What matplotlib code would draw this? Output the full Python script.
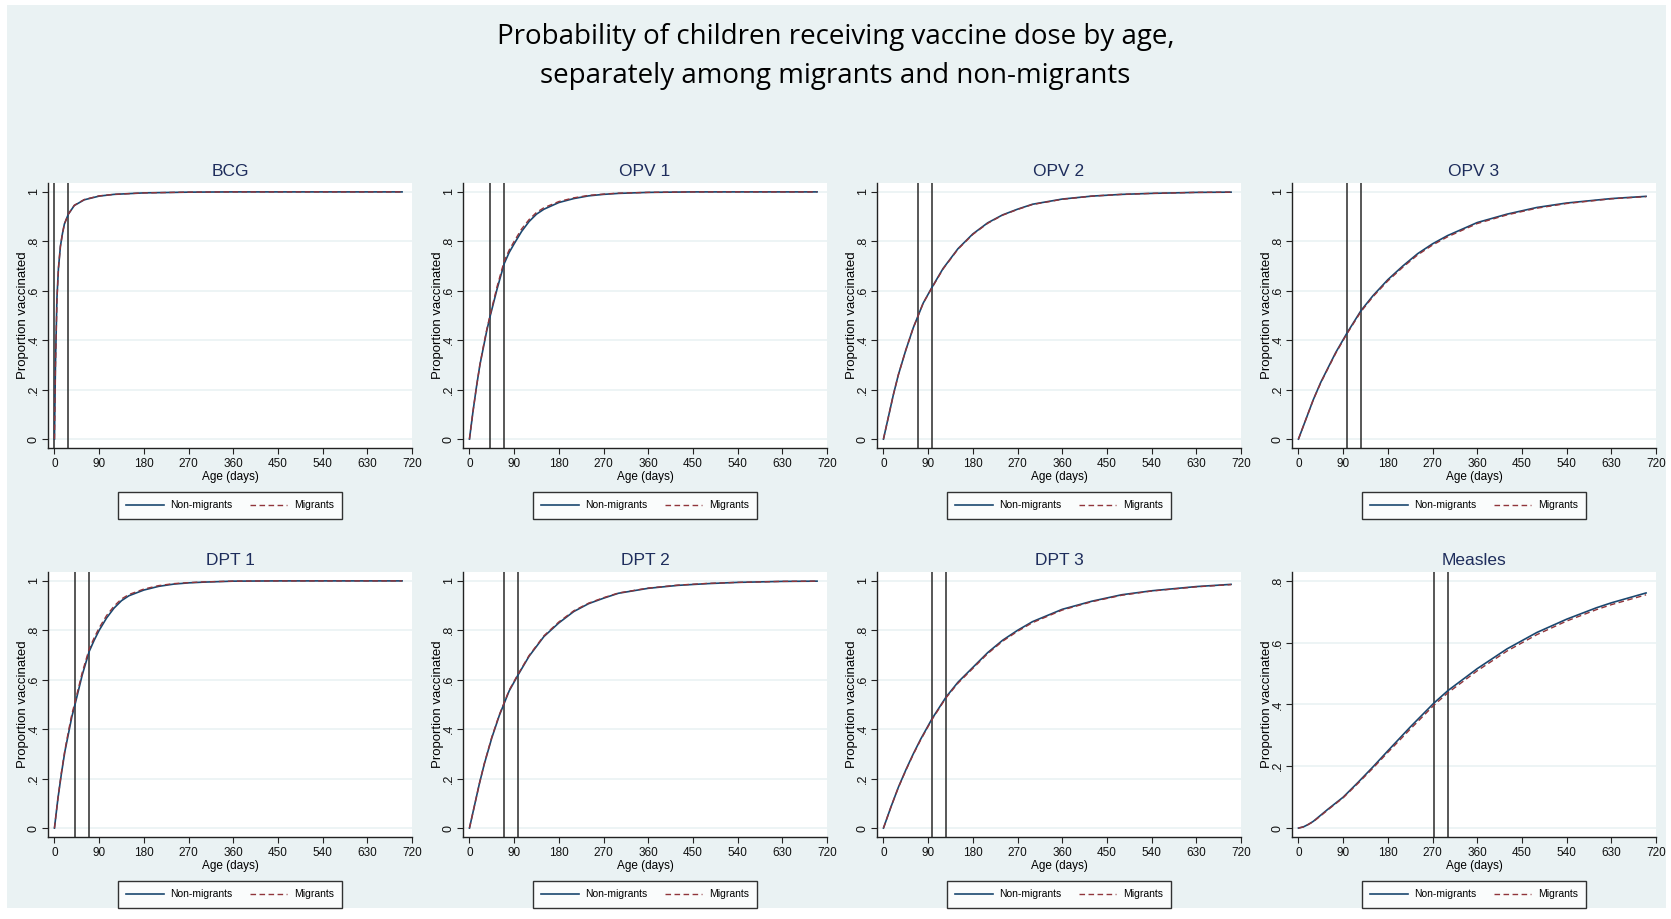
import matplotlib.pyplot as plt
from matplotlib.patches import Rectangle

# --- data (days, proportion vaccinated) ---
bcg_days = [0, 2, 5, 8, 12, 16, 20, 28, 40, 60, 90, 120, 180, 270, 360, 700]
bcg_non = [0, 0.30, 0.57, 0.69, 0.78, 0.83, 0.87, 0.91, 0.945, 0.968, 0.983, 0.99, 0.996, 0.999, 1.0, 1.0]
bcg_mig = [0, 0.29, 0.56, 0.69, 0.78, 0.83, 0.87, 0.91, 0.946, 0.969, 0.984, 0.99, 0.996, 0.999, 1.0, 1.0]
bcg_lines = [0, 28]

opv1_days = [0, 7, 14, 21, 28, 35, 42, 56, 70, 80, 90, 105, 120, 135, 150, 180, 210, 240, 270, 300, 360, 450, 700]
opv1_non = [0, 0.11, 0.21, 0.30, 0.37, 0.44, 0.50, 0.61, 0.71, 0.755, 0.79, 0.84, 0.88, 0.91, 0.93, 0.957, 0.973, 0.984, 0.99, 0.994, 0.998, 1.0, 1.0]
opv1_mig = [0, 0.11, 0.21, 0.30, 0.375, 0.445, 0.505, 0.62, 0.72, 0.765, 0.80, 0.85, 0.888, 0.917, 0.936, 0.961, 0.976, 0.986, 0.991, 0.995, 0.998, 1.0, 1.0]
opv1_lines = [42, 70]

opv2_days = [0, 10, 20, 30, 45, 60, 70, 80, 98, 120, 150, 180, 210, 240, 270, 300, 360, 420, 480, 540, 630, 700]
opv2_non = [0, 0.09, 0.18, 0.26, 0.36, 0.45, 0.50, 0.55, 0.615, 0.69, 0.77, 0.83, 0.875, 0.907, 0.93, 0.95, 0.971, 0.983, 0.99, 0.994, 0.998, 0.999]
opv2_mig = [0, 0.09, 0.18, 0.26, 0.36, 0.45, 0.50, 0.55, 0.613, 0.688, 0.768, 0.828, 0.873, 0.906, 0.929, 0.949, 0.970, 0.983, 0.99, 0.994, 0.998, 0.999]
opv2_lines = [70, 98]

opv3_days = [0, 15, 30, 45, 60, 75, 98, 126, 150, 180, 210, 240, 270, 300, 360, 420, 480, 540, 630, 700]
opv3_non = [0, 0.08, 0.16, 0.23, 0.29, 0.35, 0.43, 0.52, 0.58, 0.645, 0.70, 0.75, 0.79, 0.823, 0.876, 0.91, 0.937, 0.955, 0.973, 0.982]
opv3_mig = [0, 0.08, 0.16, 0.228, 0.288, 0.347, 0.427, 0.516, 0.576, 0.64, 0.695, 0.745, 0.785, 0.818, 0.872, 0.907, 0.934, 0.953, 0.972, 0.981]
opv3_lines = [98, 126]

dpt1_days = [0, 7, 14, 21, 28, 35, 42, 56, 70, 80, 90, 105, 120, 135, 150, 180, 210, 240, 270, 300, 360, 450, 700]
dpt1_non = [0, 0.12, 0.22, 0.31, 0.38, 0.45, 0.505, 0.62, 0.715, 0.76, 0.80, 0.85, 0.89, 0.92, 0.94, 0.963, 0.978, 0.987, 0.992, 0.995, 0.999, 1.0, 1.0]
dpt1_mig = [0, 0.12, 0.225, 0.315, 0.39, 0.46, 0.515, 0.63, 0.725, 0.77, 0.81, 0.86, 0.898, 0.927, 0.945, 0.967, 0.981, 0.989, 0.993, 0.996, 0.999, 1.0, 1.0]
dpt1_lines = [42, 70]

dpt2_days = [0, 10, 20, 30, 45, 60, 70, 80, 98, 120, 150, 180, 210, 240, 270, 300, 360, 420, 480, 540, 630, 700]
dpt2_non = [0, 0.09, 0.18, 0.26, 0.365, 0.455, 0.505, 0.555, 0.62, 0.695, 0.775, 0.83, 0.876, 0.908, 0.93, 0.95, 0.97, 0.982, 0.989, 0.994, 0.998, 0.999]
dpt2_mig = [0, 0.09, 0.18, 0.262, 0.368, 0.458, 0.508, 0.558, 0.623, 0.698, 0.778, 0.834, 0.879, 0.91, 0.932, 0.951, 0.971, 0.983, 0.99, 0.994, 0.998, 0.999]
dpt2_lines = [70, 98]

dpt3_days = [0, 15, 30, 45, 60, 75, 98, 126, 150, 180, 210, 240, 270, 300, 360, 420, 480, 540, 630, 700]
dpt3_non = [0, 0.085, 0.165, 0.235, 0.30, 0.36, 0.443, 0.53, 0.59, 0.65, 0.71, 0.76, 0.80, 0.835, 0.885, 0.918, 0.944, 0.96, 0.977, 0.986]
dpt3_mig = [0, 0.085, 0.164, 0.233, 0.298, 0.357, 0.44, 0.527, 0.586, 0.646, 0.706, 0.756, 0.796, 0.831, 0.882, 0.916, 0.942, 0.959, 0.976, 0.985]
dpt3_lines = [98, 126]

measles_days = [0, 10, 20, 30, 45, 60, 90, 120, 150, 180, 225, 273, 301, 360, 420, 480, 540, 600, 630, 700]
measles_non = [0, 0.004, 0.012, 0.022, 0.042, 0.062, 0.10, 0.148, 0.198, 0.25, 0.327, 0.405, 0.445, 0.516, 0.58, 0.633, 0.676, 0.713, 0.729, 0.761]
measles_mig = [0, 0.004, 0.012, 0.021, 0.04, 0.06, 0.098, 0.145, 0.194, 0.245, 0.32, 0.398, 0.438, 0.509, 0.573, 0.626, 0.67, 0.707, 0.723, 0.755]
measles_lines = [273, 301]

panels = [
    ("BCG", bcg_days, bcg_non, bcg_mig, bcg_lines),
    ("OPV 1", opv1_days, opv1_non, opv1_mig, opv1_lines),
    ("OPV 2", opv2_days, opv2_non, opv2_mig, opv2_lines),
    ("OPV 3", opv3_days, opv3_non, opv3_mig, opv3_lines),
    ("DPT 1", dpt1_days, dpt1_non, dpt1_mig, dpt1_lines),
    ("DPT 2", dpt2_days, dpt2_non, dpt2_mig, dpt2_lines),
    ("DPT 3", dpt3_days, dpt3_non, dpt3_mig, dpt3_lines),
    ("Measles", measles_days, measles_non, measles_mig, measles_lines),
]

W, H = 1671, 919
BG = "#eaf2f3"
NAVY = "#1a476f"
MAROON = "#90353b"

plt.rcParams['font.family'] = ['Liberation Sans', 'DejaVu Sans']

fig = plt.figure(figsize=(W / 100, H / 100), dpi=100)
fig.patch.set_facecolor("white")
fig.patches.append(Rectangle((7 / W, 1 - 908 / H), (1666 - 7) / W, (908 - 5) / H,
                             transform=fig.transFigure, facecolor=BG, edgecolor="none", zorder=-10))

fig.text(0.5, 1 - 37 / H, "Probability of children receiving vaccine dose by age,",
         ha="center", va="center", fontsize=20, family=["Open Sans", "DejaVu Sans"])
fig.text(0.5, 1 - 76 / H, "separately among migrants and non-migrants",
         ha="center", va="center", fontsize=20, family=["Open Sans", "DejaVu Sans"])

lefts = [48, 463, 877, 1292]
tops = [183, 572]
pw, ph = 364, 265

for i, (name, days, non, mig, vlines) in enumerate(panels):
    r, c = divmod(i, 4)
    x0 = lefts[c]
    y0 = tops[r]
    ax = fig.add_axes([x0 / W, 1 - (y0 + ph) / H, pw / W, ph / H])
    ax.set_facecolor("white")
    ymax = 0.8 if name == "Measles" else 1.0
    pad = ymax * 0.036
    ax.set_xlim(-13, 720)
    ax.set_ylim(-pad, ymax + pad)

    yt = [k * 0.2 for k in range(int(round(ymax / 0.2)) + 1)]
    ax.set_yticks(yt)
    ax.set_yticklabels(["0" if v == 0 else ("1" if abs(v - 1) < 1e-9 else ("%.1f" % v)[1:]) for v in yt],
                       rotation=90, va="center", fontsize=9)
    ax.set_xticks(range(0, 721, 90))
    ax.set_xticklabels([str(v) for v in range(0, 721, 90)], fontsize=8.5)
    ax.tick_params(axis="x", pad=3)
    for v in yt:
        ax.axhline(v, color=BG, lw=1.2, zorder=0)

    for v in vlines:
        ax.axvline(v, color="#2a2a2a", lw=1.1, zorder=1)

    ax.plot(days, non, color=NAVY, lw=1.2, label="Non-migrants", zorder=3)
    ax.plot(days, mig, color=MAROON, lw=1.0, ls=(0, (4, 2.5)), label="Migrants", zorder=4)

    for s in ["top", "right"]:
        ax.spines[s].set_visible(False)
    for s in ["left", "bottom"]:
        ax.spines[s].set_color("#222222")
        ax.spines[s].set_linewidth(1.0)
    ax.tick_params(length=4, width=0.8, color="#222222", labelcolor="#111111")
    ax.tick_params(axis="y", pad=2)

    ax.set_title(name, fontsize=12.5, color="#1e2d5c", pad=5)
    ax.set_xlabel("Age (days)", fontsize=8.5, labelpad=1)
    ax.set_ylabel("Proportion vaccinated", fontsize=9.5)
    ax.yaxis.set_label_coords(-19 / pw, 0.5)

    leg = ax.legend(loc="upper center", bbox_to_anchor=(0.5, -0.166), ncol=2, frameon=True,
                    fancybox=False, edgecolor="black", fontsize=7.5, handlelength=3.6,
                    columnspacing=1.7, borderpad=0.8, handletextpad=0.6, borderaxespad=0)
    leg.get_frame().set_linewidth(1.0)

fig.savefig("out.png", dpi=100, facecolor=fig.get_facecolor())
